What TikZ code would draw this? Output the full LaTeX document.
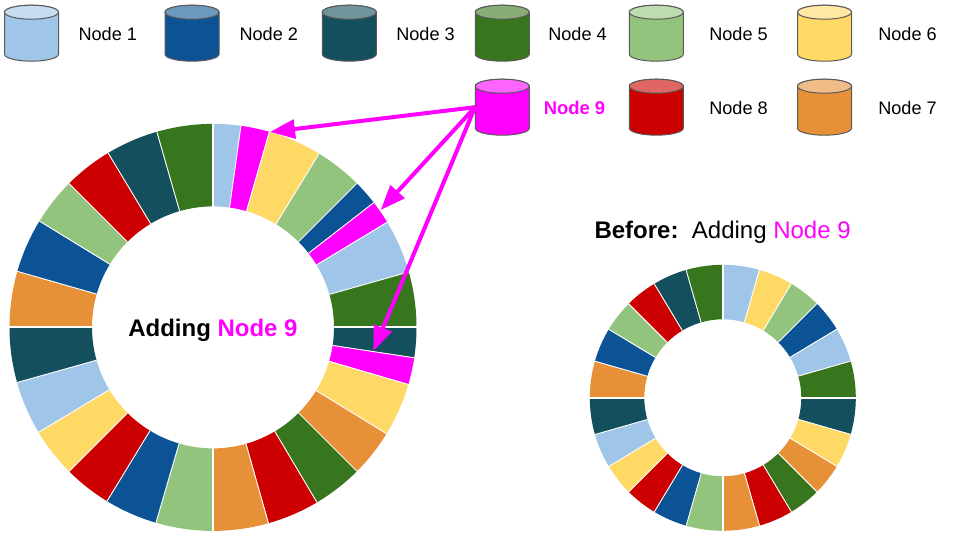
\documentclass[tikz,border=0pt]{standalone}
\usepackage{fontspec}
\setmainfont{Liberation Sans}
\usetikzlibrary{arrows.meta}
\definecolor{cA}{HTML}{9FC5E8}
\definecolor{cB}{HTML}{0B5394}
\definecolor{cC}{HTML}{134F5C}
\definecolor{cD}{HTML}{38761D}
\definecolor{cE}{HTML}{93C47D}
\definecolor{cF}{HTML}{FFD966}
\definecolor{cG}{HTML}{E69138}
\definecolor{cH}{HTML}{CC0000}
\definecolor{cI}{HTML}{FF00FF}
\tikzset{
  dbbox/.style={rectangle, minimum width=40.5pt, minimum height=42pt, inner sep=0pt},
  dbline/.style={draw=black!65, line width=0.75pt},
  lbl/.style={anchor=base west, inner sep=0pt, font=\fontsize{13.6}{16}\selectfont},
  title/.style={anchor=base west, inner sep=0pt, font=\fontsize{18}{22}\selectfont},
  link/.style={draw=cI, line width=3pt, -{Triangle[length=18.75pt,width=14pt]}},
  sector/.style={draw=white, line width=0.6pt},
  axisgap/.style={draw=white, line width=1.5pt}
}
% outer radius, inner radius, start, end (clockwise from north), colour
\newcommand{\seg}[5]{\fill[#5] (90-#3:#1) arc[start angle=90-#3,end angle=90-#4,radius=#1] -- (90-#4:#2) arc[start angle=90-#4,end angle=90-#3,radius=#2] -- cycle;
  \draw[sector] (90-#3:#1) -- (90-#3:#2) (90-#4:#1) -- (90-#4:#2);}
% name, x, y, colour
\newcommand{\dbnode}[4]{\node[dbbox] (#1) at (#2,#3) {};
  \begin{scope}[shift={(#2,#3)}]
  \draw[dbline,fill=#4] (-27,21) -- (-27,-21) arc[start angle=180,end angle=360,x radius=27,y radius=7] -- (27,21) arc[start angle=0,end angle=180,x radius=27,y radius=7] -- cycle;
  \draw[dbline,fill=#4!60!white] (0,21) circle[x radius=27,y radius=7];
  \end{scope}}
\begin{document}
\begin{tikzpicture}[x=0.75pt,y=0.75pt]
\useasboundingbox (0,0) rectangle (960,540);
\fill[white] (0,0) rectangle (960,540);
% big ring
\begin{scope}[shift={(213,212.6)}]
\foreach \s/\e/\c in {0/7.9/cA,7.9/16.1/cI,16.1/31.4/cF,31.4/45/cE,45/52.2/cB,52.2/58.9/cI,58.9/74.2/cA,74.2/90/cD,
  90/98.6/cC,98.6/106.3/cI,106.3/121.5/cF,121.5/135/cG,135/149.3/cD,149.3/164.2/cH,164.2/180/cG,
  180/196.3/cE,196.3/211.4/cB,211.4/225/cH,225/239/cF,239/254.3/cA,254.3/270/cC,
  270/286/cG,286/301.5/cB,301.5/315/cE,315/329/cH,329/344/cC,344/360/cD}
  {\seg{203.5}{121}{\s}{\e}{\c}}
\draw[axisgap] (0,204) -- (0,120) (0,-204) -- (0,-120) (204,0) -- (120,0) (-204,0) -- (-120,0);
\end{scope}
% small ring
\begin{scope}[shift={(722.8,142.2)}]
\foreach \s/\e/\c in {0/16/cA,16/31/cF,31/45/cE,45/59/cB,59/74/cA,74/90/cD,
  90/106/cC,106/121/cF,121/135/cG,135/149/cD,149/164/cH,164/180/cG,
  180/196/cE,196/211/cB,211/225/cH,225/239/cF,239/254/cA,254/270/cC,
  270/286/cG,286/301/cB,301/315/cE,315/329/cH,329/344/cC,344/360/cD}
  {\seg{133}{78.5}{\s}{\e}{\c}}
\draw[axisgap] (0,134) -- (0,78) (0,-134) -- (0,-78) (134,0) -- (78,0) (-134,0) -- (-78,0);
\end{scope}
% legend
\dbnode{n1}{31.5}{506.8}{cA}
\dbnode{n2}{192}{506.8}{cB}
\dbnode{n3}{349.3}{506.8}{cC}
\dbnode{n4}{502.3}{506.8}{cD}
\dbnode{n5}{656.3}{506.8}{cE}
\dbnode{n6}{824.5}{506.8}{cF}
\dbnode{n9}{502.3}{432.8}{cI}
\dbnode{n8}{656.3}{432.8}{cH}
\dbnode{n7}{824.5}{432.8}{cG}
\node[lbl] (t1) at (78.3,499.3) {Node 1};
\node[lbl] (t2) at (239.3,499.3) {Node 2};
\node[lbl] (t3) at (396,499.3) {Node 3};
\node[lbl] (t4) at (548,499.3) {Node 4};
\node[lbl] (t5) at (709,499.3) {Node 5};
\node[lbl] (t6) at (878,499.3) {Node 6};
\node[lbl,text=cI,font=\fontsize{13.8}{16}\selectfont\bfseries] (t9) at (543.6,425.3) {Node 9};
\node[lbl] (t8) at (709,425.3) {Node 8};
\node[lbl] (t7) at (878,425.3) {Node 7};
\node[title,font=\fontsize{18}{22}\selectfont\bfseries] (tc) at (128,203.8) {Adding \textcolor{cI}{Node 9}};
\node[title] (tb) at (594.3,301.8) {\textbf{Before:}\ \ Adding \textcolor{cI}{Node 9}};
% connectors
\coordinate (a1) at (270,408);
\coordinate (a2) at (380.7,330);
\coordinate (a3) at (373.3,189);
\draw[link] (n9.west) -- (a1);
\draw[link] (n9.west) -- (a2);
\draw[link] (n9.west) -- (a3);
\end{tikzpicture}
\end{document}
